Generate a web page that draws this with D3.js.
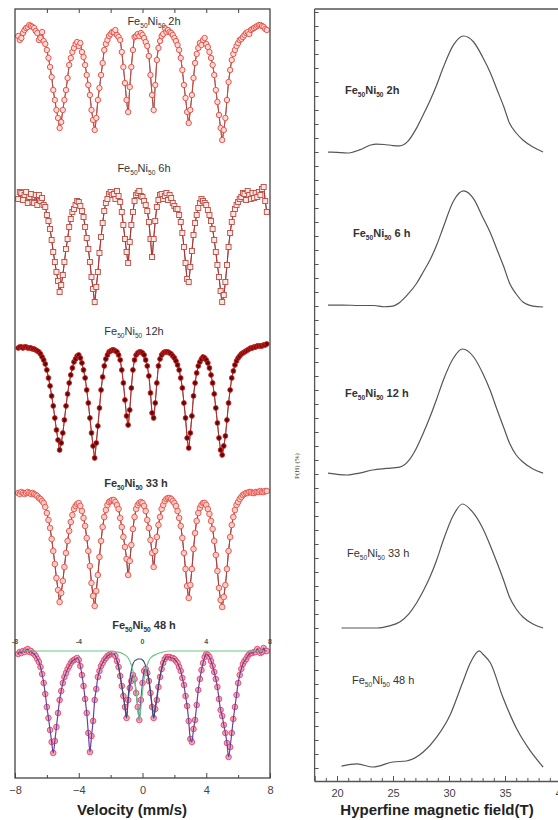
<!DOCTYPE html>
<html><head><meta charset="utf-8">
<script src="https://cdn.jsdelivr.net/npm/d3@7"></script>
<style>body{margin:0;background:#fff}svg{display:block}</style>
</head><body>
<svg id="c" width="558" height="820"></svg>
<script>
// ---------------- DATA ----------------
const velocity = [
 -7.8,-7.7,-7.6,-7.5,-7.4,-7.3,-7.2,-7.1,-7.0,-6.9,
 -6.8,-6.7,-6.6,-6.5,-6.4,-6.3,-6.2,-6.1,-6.0,-5.9,
 -5.8,-5.7,-5.6,-5.5,-5.4,-5.3,-5.2,-5.1,-5.0,-4.9,
 -4.8,-4.7,-4.6,-4.5,-4.4,-4.3,-4.2,-4.1,-4.0,-3.9,
 -3.8,-3.7,-3.6,-3.5,-3.4,-3.3,-3.2,-3.1,-3.0,-2.9,
 -2.8,-2.7,-2.6,-2.5,-2.4,-2.3,-2.2,-2.1,-2.0,-1.9,
 -1.8,-1.7,-1.6,-1.5,-1.4,-1.3,-1.2,-1.1,-1.0,-0.9,
 -0.8,-0.7,-0.6,-0.5,-0.4,-0.3,-0.2,-0.1,0.0,0.1,
 0.2,0.3,0.4,0.5,0.6,0.7,0.8,0.9,1.0,1.1,
 1.2,1.3,1.4,1.5,1.6,1.7,1.8,1.9,2.0,2.1,
 2.2,2.3,2.4,2.5,2.6,2.7,2.8,2.9,3.0,3.1,
 3.2,3.3,3.4,3.5,3.6,3.7,3.8,3.9,4.0,4.1,
 4.2,4.3,4.4,4.5,4.6,4.7,4.8,4.9,5.0,5.1,
 5.2,5.3,5.4,5.5,5.6,5.7,5.8,5.9,6.0,6.1,
 6.2,6.3,6.4,6.5,6.6,6.7,6.8,6.9,7.0,7.1,
 7.2,7.3,7.4,7.5,7.6,7.7,7.8];

// relative absorption (%)
const abs2h = [
 0.6,1.0,0.8,0.3,0.0,-0.2,-0.3,-0.5,-0.4,-0.3,
 -0.2,0.1,0.3,1.0,0.8,0.2,1.1,1.4,2.0,2.8,
 3.7,4.7,6.0,7.0,8.0,8.8,9.8,9.2,8.0,7.0,
 6.0,4.8,3.5,2.8,2.2,1.8,1.4,1.2,1.6,1.3,
 2.2,2.7,3.5,4.5,5.5,6.5,8.0,9.0,10.0,8.8,
 7.0,5.8,4.5,3.3,2.0,1.4,1.0,0.6,0.4,0.2,
 0.2,0.0,0.5,0.7,1.0,2.2,3.7,5.3,7.0,8.2,
 5.7,3.7,2.0,0.7,0.6,0.4,0.6,0.3,0.5,0.8,
 1.2,1.6,2.6,4.5,6.5,8.0,5.5,3.0,1.8,1.1,
 0.6,0.4,-0.2,0.2,0.0,0.2,0.3,0.5,0.8,1.1,
 1.5,2.0,2.8,4.0,5.5,6.8,8.2,9.3,8.0,6.5,
 4.8,3.3,2.4,1.8,1.3,1.5,1.0,0.8,1.4,1.7,
 2.2,2.8,3.5,4.5,6.0,7.2,8.5,9.8,11.0,10.0,
 8.8,7.0,5.2,4.0,3.0,2.4,2.0,1.6,1.3,1.0,
 0.9,0.7,0.5,0.3,0.2,0.4,0.0,-0.1,-0.2,-0.3,
 -0.4,-0.5,-0.5,-0.4,-0.3,-0.1,0.0];
const abs6h = [
 0.2,-0.5,-0.4,0.3,-0.2,-0.5,0.6,0.0,-0.3,0.5,
 0.6,-0.2,0.8,-0.2,0.4,0.1,0.8,1.0,1.8,2.4,
 3.2,4.3,5.5,6.5,7.5,8.4,9.5,8.8,7.8,6.5,
 5.2,4.2,3.0,2.2,1.5,1.2,0.8,0.4,0.5,0.9,
 1.4,2.0,3.0,4.1,5.2,6.5,8.0,9.2,10.5,9.0,
 7.5,5.6,4.0,2.6,1.4,0.6,0.2,-0.3,-0.5,-0.2,
 -0.3,0.2,-0.6,-0.1,0.5,1.5,2.8,4.2,5.5,6.6,
 4.5,2.8,1.5,0.4,-0.2,-0.4,-0.6,-0.1,0.0,0.4,
 0.8,1.4,2.5,4.2,6.0,4.2,2.4,1.0,0.3,-0.2,
 -0.3,0.2,-0.1,-0.4,0.3,-0.2,0.1,0.6,0.9,1.2,
 1.2,1.8,2.5,3.6,5.0,6.6,8.2,8.5,7.0,5.4,
 3.8,2.6,1.8,1.1,0.6,0.2,0.4,0.6,0.8,1.3,
 1.8,2.4,3.2,4.3,5.5,6.8,8.0,9.4,10.5,9.8,
 8.5,6.8,5.0,3.6,2.5,1.7,1.2,0.8,0.5,0.2,
 0.0,-0.4,-0.3,0.3,-0.6,-0.2,0.2,-0.4,0.1,-0.4,
 0.0,-0.5,-0.2,-0.8,-1.0,0.4,1.5];
const abs12h = [
 0.0,-0.1,-0.1,0.0,-0.1,-0.1,0.0,0.0,0.0,0.1,
 0.1,0.2,0.3,0.4,0.6,0.9,1.2,1.6,2.2,3.0,
 3.8,4.8,5.8,7.0,8.2,9.2,10.2,9.5,8.5,7.2,
 5.8,4.6,3.5,2.7,2.0,1.4,1.1,0.8,0.7,1.0,
 1.5,2.2,3.0,4.2,5.5,7.0,8.5,9.8,11.0,9.5,
 7.8,6.0,4.2,2.9,1.8,1.1,0.7,0.4,0.3,0.2,
 0.2,0.3,0.4,0.7,1.2,2.2,3.5,5.2,6.8,7.7,
 6.2,4.0,2.2,1.2,0.7,0.5,0.4,0.4,0.5,0.7,
 1.2,1.8,2.8,4.5,6.5,7.0,5.5,3.5,1.8,1.1,
 0.7,0.5,0.4,0.4,0.4,0.5,0.6,0.8,1.0,1.3,
 1.7,2.2,3.0,4.0,5.5,7.0,9.0,10.0,8.5,6.8,
 4.8,3.5,2.5,1.8,1.4,1.1,0.9,1.0,1.2,1.5,
 2.0,2.7,3.5,4.6,6.0,7.5,9.0,10.2,10.7,9.8,
 8.8,7.2,5.5,4.2,3.0,2.3,1.7,1.3,1.0,0.8,
 0.6,0.5,0.4,0.3,0.2,0.1,0.0,0.0,-0.1,-0.1,
 -0.2,-0.2,-0.2,-0.2,-0.3,-0.3,-0.4];
const abs33h = [
 0.0,0.1,-0.1,0.0,0.1,0.0,-0.1,0.0,0.1,0.0,
 0.1,0.2,0.3,0.5,0.6,0.8,1.0,1.4,2.0,2.7,
 3.5,4.6,5.8,7.1,8.5,9.7,10.9,10.0,8.8,7.4,
 6.0,4.8,3.8,2.9,2.2,1.6,1.3,1.1,1.0,1.3,
 1.8,2.5,3.3,4.5,5.8,7.3,9.0,10.3,11.3,9.8,
 8.2,6.4,4.8,3.4,2.4,1.7,1.2,0.9,0.8,0.7,
 0.7,0.9,1.2,1.6,2.5,3.4,4.4,5.4,6.6,8.2,
 6.8,5.2,3.6,2.4,1.6,1.2,1.0,0.9,1.0,1.3,
 1.8,2.7,3.5,4.7,6.0,7.4,5.8,4.4,3.2,2.4,
 1.6,1.2,0.8,0.6,0.5,0.5,0.6,0.8,1.0,1.3,
 1.8,2.5,3.3,4.5,6.0,7.6,9.3,10.5,9.2,7.6,
 5.6,4.0,2.8,2.0,1.5,1.2,1.0,1.0,1.2,1.6,
 2.1,2.8,3.6,4.8,6.2,7.8,9.5,10.7,11.4,10.4,
 9.2,7.6,5.8,4.4,3.2,2.4,1.7,1.2,0.9,0.6,
 0.4,0.2,0.1,0.0,0.0,-0.1,-0.1,0.0,0.0,-0.1,
 -0.1,-0.1,-0.2,-0.1,-0.1,-0.2,-0.2];
const abs48h = [
 0.3,0.1,0.2,0.0,0.1,-0.1,-0.2,0.1,0.0,0.2,
 0.3,0.5,0.8,1.1,1.6,2.3,3.2,4.3,5.6,6.7,
 7.9,9.1,10.2,9.0,7.6,6.2,4.9,4.0,3.2,2.6,
 2.2,1.8,1.5,1.2,1.0,0.9,0.8,0.7,0.9,1.5,
 2.4,3.5,4.8,6.2,8.2,10.1,8.5,7.0,4.9,3.8,
 2.6,2.0,1.5,1.2,0.9,0.7,0.5,0.4,0.3,0.3,
 0.3,0.5,1.0,1.6,2.5,3.5,4.5,5.6,6.7,4.9,
 3.7,3.0,2.4,2.8,4.2,5.6,6.9,4.9,3.2,2.0,
 1.8,2.2,3.0,4.2,5.6,6.7,5.8,4.9,3.6,2.6,
 1.8,1.2,0.8,0.6,0.6,0.6,0.7,0.7,0.8,1.0,
 1.2,1.6,2.0,2.7,3.4,4.5,5.5,7.0,8.8,9.1,
 7.8,6.9,5.4,3.9,2.8,1.9,1.2,0.6,0.3,0.4,
 0.6,1.0,1.5,2.1,2.8,3.6,4.8,5.9,6.5,7.4,
 8.2,9.2,10.6,9.6,8.2,6.8,5.6,4.4,3.2,2.4,
 1.8,1.3,1.0,0.8,0.5,0.3,0.2,0.2,0.1,0.1,
 -0.2,0.0,0.2,0.1,-0.3,0.0,0.0];
// 48 h fitted sub-spectra
const sextet48Velocity = [-1.6,-1.5,-1.4,-1.3,-1.2,-1.1,-1.0,-0.9,-0.8,-0.7,-0.6,-0.5,-0.4,-0.3,-0.2,-0.1,0.0,0.1,0.2,0.3,0.4,0.5,0.6,0.7,0.8,0.9,1.0,1.1,1.2,1.3,1.4];
const sextet48 = [1.0,1.6,2.5,3.5,4.5,5.6,6.7,4.6,2.9,1.9,1.3,1.0,0.9,0.8,0.8,0.8,0.9,1.1,1.5,2.0,2.8,4.0,5.4,6.7,5.6,4.6,3.4,2.5,1.8,1.2,0.8];
const singlet48Velocity = [-7.6,-2.2,-1.6,-1.2,-0.9,-0.7,-0.5,-0.35,-0.2,-0.05,0.1,0.3,0.5,0.9,1.3,1.7,2.2,7.6];
const singlet48 = [0,0,0.1,0.3,0.7,1.4,2.8,4.8,6.9,4.8,2.8,1.4,0.7,0.3,0.1,0,0,0];

const spectrumNames = ["2h","6h","12h","33 h","48 h"];
const distNames = ["2h","6 h","12 h","33 h","48 h"];
const velocityTicks = [-8,-4,0,4,8];
const velocityMinor = [-6,-2,2,6];
const fieldTicks = [20,25,30,35,40];

// hyperfine field distributions P(H) (%)
const field2h = [19.2,20.0,20.9,22.0,23.0,23.5,24.2,25.0,25.6,26.3,27.1,27.7,28.3,28.9,29.5,30.4,31.3,32.2,33.0,33.7,34.3,34.9,35.4,36.0,36.6,37.5,38.4];
const ph2h = [0.14,0.11,0.07,0.29,0.64,0.71,0.68,0.60,0.58,0.88,1.85,2.80,3.80,4.93,6.21,7.79,8.43,8.00,6.93,5.79,4.57,3.36,2.21,1.50,1.00,0.50,0.14];
const field6h = [19.2,20.5,22.0,23.3,24.2,24.8,25.6,26.3,27.1,27.7,28.3,28.9,29.5,30.4,31.3,32.2,33.0,33.7,34.3,34.9,35.4,36.0,36.6,37.5,38.4];
const ph6h = [0.21,0.21,0.18,0.18,0.09,0.11,0.40,0.95,1.75,2.57,3.43,4.50,5.79,7.64,8.36,7.79,6.50,5.36,4.14,2.93,1.79,1.00,0.43,0.14,0.07];
const field12h = [19.2,20.9,22.0,23.2,24.4,25.6,26.4,27.1,27.7,28.3,28.9,29.5,30.4,31.2,32.2,33.0,33.7,34.3,34.9,35.4,36.0,36.6,37.5,38.4];
const ph12h = [0.21,0.07,0.21,0.43,0.54,0.64,1.10,2.00,3.05,4.21,5.50,6.86,8.43,9.07,8.50,7.36,6.07,4.71,3.43,2.36,1.50,1.00,0.50,0.21];
const field33h = [20.4,22.0,23.6,24.6,25.6,26.4,27.1,27.7,28.3,28.9,29.5,30.4,31.2,32.1,33.0,33.7,34.3,34.9,35.4,36.0,36.6,37.5,38.4];
const ph33h = [0.07,0.07,0.07,0.21,0.50,1.07,1.86,2.71,3.71,4.93,6.36,8.14,8.93,8.36,7.21,5.93,4.71,3.43,2.29,1.43,0.86,0.36,0.07];
const field48h = [20.4,21.8,23.2,25.0,26.2,27.7,28.9,30.1,31.2,31.9,32.7,33.1,33.7,34.8,36.1,37.2,38.4];
const ph48h = [0.14,0.29,0.07,0.43,0.50,1.14,2.21,3.79,6.07,7.50,8.36,8.07,7.50,5.07,2.71,1.29,0.07];

// ---------------- LAYOUT ----------------
const svg = d3.select("#c");
const FONT = "'Liberation Sans', Arial, sans-serif";
const L = {x0: 15, x1: 270, top: 9, bottom: 778};
const R = {x0: 314.6, top: 9, bottom: 781};
const specBase = [30, 197, 348, 493, 651];
const specLabelPos = [[154, 25, 400], [144, 172, 400], [134, 335, 400], [136, 487, 700], [144, 629, 700]];
const distBase = [154, 308, 476, 629, 768];
const distLabelPos = [[345, 94, 700], [353, 237, 700], [345, 397, 700], [347, 557, 400], [352, 684, 400]];

const xV = d3.scaleLinear().domain([-8, 8]).range([L.x0, L.x1]);
const xH = d3.scaleLinear().domain([18, 42]).range([R.x0, R.x0 + 24 * 11.2]);

function label(g, x, y, suffix, weight, size, anchor) {
  const t = g.append("text").attr("x", x).attr("y", y).attr("text-anchor", anchor)
    .attr("font-family", FONT).attr("font-size", size).attr("font-weight", weight).attr("fill", "#333");
  t.append("tspan").text("Fe");
  t.append("tspan").attr("dy", 3).attr("font-size", size * 0.6).text("50");
  t.append("tspan").attr("dy", -3).text("Ni");
  t.append("tspan").attr("dy", 3).attr("font-size", size * 0.6).text("50");
  t.append("tspan").attr("dy", -3).text(" " + suffix);
}

// ---------- LEFT PANEL ----------
const left = svg.append("g");
const spectra = [abs2h, abs6h, abs12h, abs33h, abs48h];
const styles = [
  {shape: "circle", r: 2.7, fill: "#fcdcd6", stroke: "#e8453c", line: "#e8453c"},
  {shape: "square", r: 2.5, fill: "#fde8e4", stroke: "#bb4a40", line: "#e02020"},
  {shape: "circle", r: 2.4, fill: "#5a0808", stroke: "#d42020", line: "#d42020"},
  {shape: "circle", r: 2.8, fill: "#f9ccc4", stroke: "#e8504a", line: "#d83030"},
  {shape: "circle", r: 2.8, fill: "#f4a8b8", stroke: "#e2486a", line: "#6a3f9e"}
];

spectra.forEach((vals, i) => {
  const y = d3.scaleLinear().domain([0, 12]).range([specBase[i], specBase[i] + 120]);
  const pts = velocity.map((v, k) => [v, vals[k]]);
  const g = left.append("g");
  const st = styles[i];
  if (i < 4) {
    g.append("path").datum(pts).attr("fill", "none").attr("stroke", "#333").attr("stroke-width", 0.9)
      .attr("d", d3.line().x(d => xV(d[0])).y(d => y(d[1])).curve(d3.curveMonotoneX));
    g.append("path").datum(pts).attr("fill", "none").attr("stroke", st.line).attr("stroke-width", 0.8)
      .attr("d", d3.line().x(d => xV(d[0])).y(d => y(d[1])));
  }
  if (st.shape === "circle") {
    g.selectAll("circle").data(pts).join("circle")
      .attr("cx", d => xV(d[0])).attr("cy", d => y(d[1])).attr("r", st.r)
      .attr("fill", st.fill).attr("stroke", st.stroke).attr("stroke-width", 0.9);
  } else {
    g.selectAll("rect").data(pts).join("rect")
      .attr("x", d => xV(d[0]) - st.r).attr("y", d => y(d[1]) - st.r)
      .attr("width", st.r * 2).attr("height", st.r * 2)
      .attr("fill", st.fill).attr("stroke", st.stroke).attr("stroke-width", 0.9);
  }
  if (i === 4) {
    g.append("path").datum(pts).attr("fill", "none").attr("stroke", st.line).attr("stroke-width", 1.2)
      .attr("d", d3.line().x(d => xV(d[0])).y(d => y(d[1])).curve(d3.curveMonotoneX));
    const sx = sextet48Velocity.map((v, k) => [v, sextet48[k]]);
    g.append("path").datum(sx).attr("fill", "none").attr("stroke", "#3a4a7a").attr("stroke-width", 1.1)
      .attr("d", d3.line().x(d => xV(d[0])).y(d => y(d[1])).curve(d3.curveMonotoneX));
    const sg = singlet48Velocity.map((v, k) => [v, singlet48[k]]);
    g.append("path").datum(sg).attr("fill", "none").attr("stroke", "#6cc48c").attr("stroke-width", 1.2)
      .attr("d", d3.line().x(d => xV(d[0])).y(d => y(d[1])).curve(d3.curveMonotoneX));
    g.selectAll("text.vt").data(velocityTicks).join("text").attr("class", "vt")
      .attr("x", d => xV(d)).attr("y", 644).attr("text-anchor", "middle")
      .attr("font-family", FONT).attr("font-size", 7).attr("font-weight", 700).attr("fill", "#555")
      .text(d => d);
  }
  const lp = specLabelPos[i];
  label(left, lp[0], lp[1], spectrumNames[i], lp[2], 11, "middle");
});

left.append("rect").attr("x", L.x0).attr("y", L.top).attr("width", L.x1 - L.x0).attr("height", L.bottom - L.top)
  .attr("fill", "none").attr("stroke", "#444").attr("stroke-width", 1.3);
const axB = left.append("g").attr("transform", `translate(0,${L.bottom})`)
  .call(d3.axisBottom(xV).tickValues(velocityTicks).tickSize(-5).tickPadding(8).tickFormat(d3.format("d")));
const axBm = left.append("g").attr("transform", `translate(0,${L.bottom})`)
  .call(d3.axisBottom(xV).tickValues(velocityMinor).tickSize(-3).tickFormat(""));
const axT = left.append("g").attr("transform", `translate(0,${L.top})`)
  .call(d3.axisTop(xV).tickValues([-6,-4,-2,0,2,4,6]).tickSize(-4).tickFormat(""));
[axB, axBm, axT].forEach(a => { a.select(".domain").remove(); a.selectAll("line").attr("stroke", "#444"); });
axB.selectAll("text").attr("font-family", FONT).attr("font-size", 11).attr("fill", "#444");
left.append("text").attr("x", 132).attr("y", 815).attr("text-anchor", "middle")
  .attr("font-family", FONT).attr("font-size", 15).attr("font-weight", 700).attr("fill", "#222")
  .text("Velocity (mm/s)");

// ---------- RIGHT PANEL ----------
const right = svg.append("g");
const fields = [field2h, field6h, field12h, field33h, field48h];
const phs = [ph2h, ph6h, ph12h, ph33h, ph48h];
fields.forEach((f, i) => {
  const y = d3.scaleLinear().domain([0, 10]).range([distBase[i], distBase[i] - 140]);
  const pts = f.map((h, k) => [h, phs[i][k]]);
  right.append("path").datum(pts).attr("fill", "none").attr("stroke", "#555").attr("stroke-width", 1.2)
    .attr("d", d3.line().x(d => xH(d[0])).y(d => y(d[1])).curve(d3.curveMonotoneX));
  const lp = distLabelPos[i];
  label(right, lp[0], lp[1], distNames[i], lp[2], 11, "start");
});
right.append("line").attr("x1", R.x0).attr("x2", 600).attr("y1", R.top).attr("y2", R.top).attr("stroke", "#555").attr("stroke-width", 1.3);
right.append("line").attr("x1", R.x0).attr("x2", R.x0).attr("y1", R.top).attr("y2", R.bottom).attr("stroke", "#555").attr("stroke-width", 1.3);
const yT = d3.scaleLinear().domain([0, 54]).range([768, 12]);
const axL = right.append("g").attr("transform", `translate(${R.x0},0)`)
  .call(d3.axisLeft(yT).ticks(54).tickSize(-4).tickFormat(""));
const axRB = right.append("g").attr("transform", `translate(0,${R.bottom})`)
  .call(d3.axisBottom(xH).tickValues(fieldTicks).tickSize(-5).tickPadding(8));
const axRBm = right.append("g").attr("transform", `translate(0,${R.bottom})`)
  .call(d3.axisBottom(xH).tickValues(d3.range(19, 42).filter(v => v % 5 !== 0)).tickSize(-3).tickFormat(""));
axRB.select(".domain").attr("stroke", "#555").attr("stroke-width", 1.3);
[axL, axRBm].forEach(a => a.select(".domain").remove());
[axL, axRB, axRBm].forEach(a => a.selectAll("line").attr("stroke", "#555"));
axRB.selectAll("text").attr("font-family", FONT).attr("font-size", 11).attr("fill", "#444");
right.append("text").attr("transform", "translate(299,466) rotate(-90)").attr("text-anchor", "middle")
  .attr("font-family", "'Liberation Serif', 'Times New Roman', serif").attr("font-size", 7).attr("fill", "#444")
  .text("P(H) (%)");
right.append("text").attr("x", 437).attr("y", 815).attr("text-anchor", "middle")
  .attr("font-family", FONT).attr("font-size", 15).attr("font-weight", 700).attr("fill", "#222")
  .text("Hyperfine magnetic field(T)");
</script>
</body></html>
